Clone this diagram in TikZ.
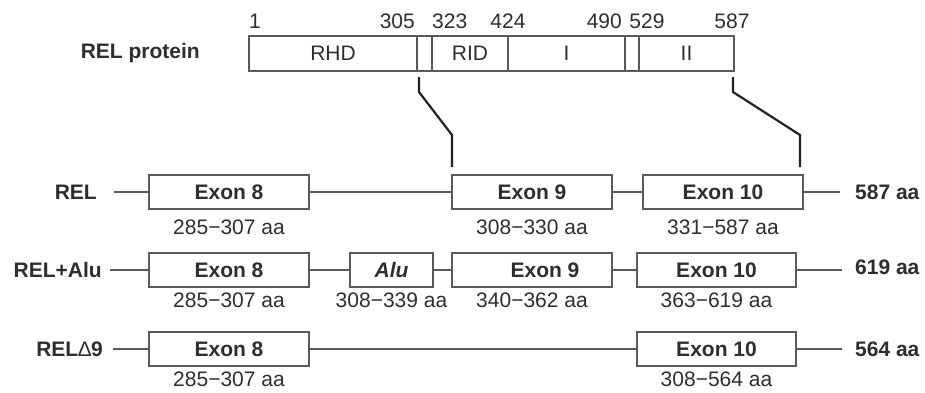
\documentclass[tikz,border=0pt]{standalone}
\usepackage{fontspec}
\setmainfont{Liberation Sans}
\usetikzlibrary{positioning}
\definecolor{inkgray}{HTML}{2E2E2E}
\definecolor{boxgray}{HTML}{5A5A5A}
\definecolor{cutgray}{HTML}{222222}
\newcommand{\figsize}{\fontsize{21}{24}\selectfont}

\tikzset{
  domainbox/.style={draw=boxgray, line width=1.3pt, minimum height=35pt,
    inner sep=0pt, outer sep=0pt, text=inkgray, font=\figsize},
  exon/.style={draw=boxgray, fill=white, line width=1.3pt, minimum height=34pt,
    minimum width=160pt, inner sep=0pt, outer sep=0pt, text=inkgray,
    font=\figsize\bfseries},
  posnum/.style={inner sep=0pt, text=inkgray, font=\figsize},
  aarange/.style={inner sep=0pt, text=inkgray, font=\figsize},
  rowname/.style={inner sep=0pt, text=inkgray, font=\figsize\bfseries},
  strand/.style={draw=boxgray, line width=1.3pt},
  cutline/.style={draw=cutgray, line width=2.2pt}
}

\begin{document}
\begin{tikzpicture}[x=1pt, y=-1pt]
  \useasboundingbox (0,0) rectangle (925,392);

  % protein domains
  \node[domainbox, anchor=west, minimum width=168pt] (rhd) at (249,53.5) {RHD};
  \node[domainbox, minimum width=15pt, right=0pt of rhd] (gapa) {};
  \node[domainbox, minimum width=76pt, right=0pt of gapa] (rid) {RID};
  \node[domainbox, minimum width=117pt, right=0pt of rid] (dI) {I};
  \node[domainbox, minimum width=14pt, right=0pt of dI] (gapb) {};
  \node[domainbox, minimum width=95pt, right=0pt of gapb] (dII) {II};
  \node[rowname, left=49pt of rhd] (prot) {REL protein};

  % positions
  \node[posnum, anchor=base west] (p1) at ([yshift=8pt]rhd.north west) {1};
  \node[posnum, anchor=base east] (p305) at ([xshift=-2pt,yshift=8pt]gapa.north west) {305};
  \node[posnum, anchor=base west] (p323) at ([yshift=8pt]gapa.north east) {323};
  \node[posnum, anchor=base] (p424) at ([yshift=8pt]rid.north east) {424};
  \node[posnum, anchor=base east] (p490) at ([xshift=-3pt,yshift=8pt]dI.north east) {490};
  \node[posnum, anchor=base] (p529) at ([xshift=8pt,yshift=8pt]gapb.north east) {529};
  \node[posnum, anchor=base] (p587) at ([xshift=-2pt,yshift=8pt]dII.north east) {587};

  % REL
  \node[rowname, anchor=east] (rel) at (97,192) {REL};
  \coordinate (starta) at (114,192);
  \node[exon, anchor=west] (e8a) at (149,192) {Exon 8};
  \node[exon, anchor=west] (e9a) at (452,192) {Exon 9};
  \node[exon, anchor=west] (e10a) at (643,192) {Exon 10};
  \coordinate (enda) at (840,192);
  \node[rowname, anchor=west] (lena) at (855,192) {587 aa};
  \draw[strand] (starta) -- (e8a) (e8a) -- (e9a) (e9a) -- (e10a) (e10a) -- (enda);
  \node[aarange, below=11pt of e8a] {285−307 aa};
  \node[aarange, below=11pt of e9a] {308−330 aa};
  \node[aarange, below=11pt of e10a] {331−587 aa};

  % REL+Alu
  \node[rowname, anchor=east] (relalu) at (102,270) {REL+Alu};
  \coordinate (startb) at (110,270);
  \node[exon, anchor=west] (e8b) at (149,270) {Exon 8};
  \node[exon, anchor=west, minimum width=83pt, font=\figsize\bfseries\itshape] (alu) at (350,270) {Alu};
  \node[exon, anchor=west] (e9b) at (452,270) {\hspace*{26pt}Exon 9};
  \node[exon, anchor=west, minimum width=159pt] (e10b) at (637,270) {Exon 10};
  \coordinate (endb) at (842,270);
  \node[rowname, anchor=west] (lenb) at (855,267) {619 aa};
  \draw[strand] (startb) -- (e8b) (e8b) -- (alu) (alu) -- (e9b) (e9b) -- (e10b) (e10b) -- (endb);
  \node[aarange, below=6pt of e8b] {285−307 aa};
  \node[aarange, below=6pt of alu] {308−339 aa};
  \node[aarange, below=6pt of e9b] {340−362 aa};
  \node[aarange, below=6pt of e10b] {363−619 aa};

  % REL delta 9
  \node[rowname, anchor=east] (reld) at (103,349) {REL{\mdseries ∆}9};
  \coordinate (startc) at (113,349);
  \node[exon, anchor=west] (e8c) at (149,349) {Exon 8};
  \node[exon, anchor=west, minimum width=159pt] (e10c) at (637,349) {Exon 10};
  \coordinate (endc) at (842,349);
  \node[rowname, anchor=west] (lenc) at (855,349) {564 aa};
  \draw[strand] (startc) -- (e8c) (e8c) -- (e10c) (e10c) -- (endc);
  \node[aarange, below=6pt of e8c] {285−307 aa};
  \node[aarange, below=6pt of e10c] {308−564 aa};

  % exon boundaries on the protein
  \coordinate (cuta) at ([xshift=2pt,yshift=-6pt]gapa.south west);
  \coordinate (joina) at ([yshift=8pt]e9a.north west);
  \coordinate (cutb) at ([xshift=-1pt,yshift=-6pt]dII.south east);
  \coordinate (joinb) at ([xshift=-3pt,yshift=8pt]e10a.north east);
  \draw[cutline] (cuta) -- ++(0,15) -- ([yshift=32pt]joina) -- (joina);
  \draw[cutline] (cutb) -- ++(0,15) -- ([yshift=32pt]joinb) -- (joinb);
\end{tikzpicture}
\end{document}
